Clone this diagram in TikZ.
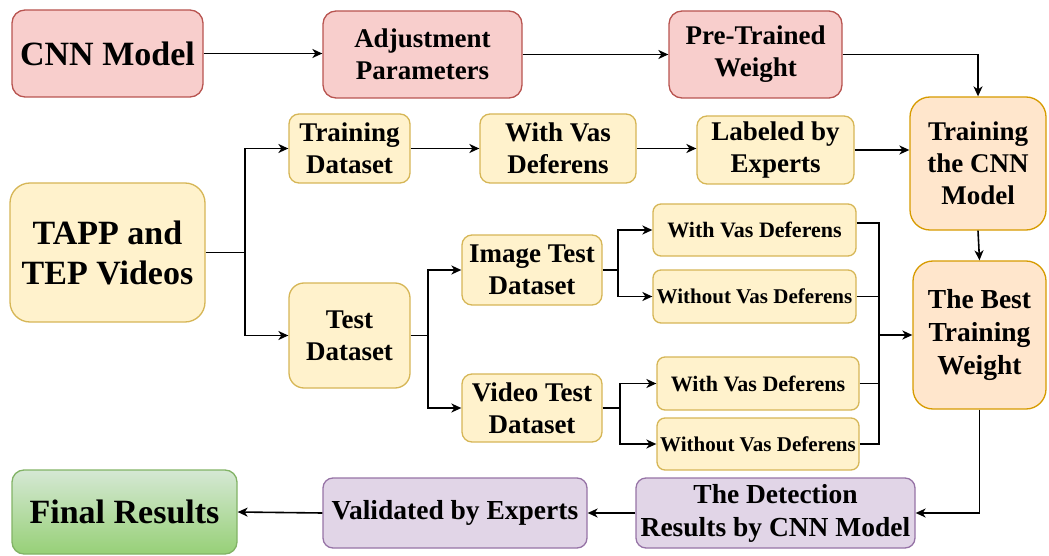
\documentclass[tikz,border=0pt]{standalone}
\usepackage{fontspec}
\setmainfont{Liberation Serif}
\usetikzlibrary{arrows.meta}

\definecolor{redfill}{HTML}{F8CECC}
\definecolor{redline}{HTML}{B85450}
\definecolor{yelfill}{HTML}{FFF2CC}
\definecolor{yelline}{HTML}{D6B656}
\definecolor{orafill}{HTML}{FFE6CC}
\definecolor{oraline}{HTML}{D79B00}
\definecolor{purfill}{HTML}{E1D5E7}
\definecolor{purline}{HTML}{9673A6}
\definecolor{grntop}{HTML}{D5E8D4}
\definecolor{grnbot}{HTML}{97D077}
\definecolor{grnline}{HTML}{82B366}

\tikzset{
  box/.style={rectangle, line width=1.3pt, inner sep=0pt, align=center,
    font=\rmfamily\bfseries\fontsize{27}{32}\selectfont, rounded corners=10pt},
  bigtext/.style={font=\rmfamily\bfseries\fontsize{34}{40}\selectfont},
  midtext/.style={font=\rmfamily\bfseries\fontsize{27.5}{33}\selectfont},
  smalltext/.style={font=\rmfamily\bfseries\fontsize{22}{25}\selectfont},
  tinytext/.style={font=\rmfamily\bfseries\fontsize{21}{25}\selectfont},
  redbox/.style={box, fill=redfill, draw=redline, rounded corners=13pt},
  yelbox/.style={box, fill=yelfill, draw=yelline},
  orabox/.style={box, fill=orafill, draw=oraline, rounded corners=20pt},
  purbox/.style={box, fill=purfill, draw=purline},
  grnbox/.style={box, top color=grntop, bottom color=grnbot, draw=grnline, rounded corners=12pt},
  wire/.style={line width=1.6pt, black},
  arr/.style={wire, -{Stealth[length=10pt,width=9pt,inset=3pt]}},
}

\begin{document}
\begin{tikzpicture}[x=1pt,y=-1pt]
\useasboundingbox (0,0) rectangle (1049,556);

% top row
\node[redbox, bigtext, minimum width=191pt, minimum height=87pt] (cnn) at (107.5,53.5) {CNN Model};
\node[redbox, minimum width=199pt, minimum height=87pt] (adj) at (422.5,54.5) {Adjustment\\Parameters};
\node[redbox, minimum width=173pt, minimum height=87pt] (pre) at (755.5,54.5) {Pre-Trained\\Weight};

% training branch
\node[orabox, minimum width=136pt, minimum height=133pt] (train) at (978,163.5) {Training\\the CNN\\Model};
\node[yelbox, minimum width=121pt, minimum height=69pt] (tds) at (349.5,148.5) {Training\\Dataset};
\node[yelbox, minimum width=156pt, minimum height=69pt] (wvd) at (558,148.5) {With Vas\\Deferens};
\node[yelbox, minimum width=157pt, minimum height=68pt] (lab) at (775.5,150) {Labeled by\\Experts};

% source videos
\node[yelbox, bigtext, rounded corners=20pt, minimum width=195pt, minimum height=139pt] (tapp) at (107.5,252.5) {TAPP and\\TEP Videos};

% test branch
\node[yelbox, rounded corners=15pt, minimum width=121pt, minimum height=105pt] (test) at (349.5,335.5) {Test\\Dataset};
\node[yelbox, minimum width=140pt, minimum height=70pt] (imt) at (532,270) {Image Test\\Dataset};
\node[yelbox, minimum width=140pt, minimum height=68pt] (vt) at (532,408) {Video Test\\Dataset};
\node[yelbox, smalltext, rounded corners=8pt, minimum width=203pt, minimum height=52pt] (w1) at (754.5,230) {With Vas Deferens};
\node[yelbox, tinytext, rounded corners=8pt, minimum width=203pt, minimum height=53pt] (wo1) at (754.5,296.5) {Without Vas Deferens};
\node[yelbox, smalltext, rounded corners=8pt, minimum width=202pt, minimum height=53pt] (w2) at (758,383.5) {With Vas Deferens};
\node[yelbox, tinytext, rounded corners=8pt, minimum width=202pt, minimum height=52pt] (wo2) at (758,444) {Without Vas Deferens};

\node[orabox, midtext, minimum width=133pt, minimum height=148pt] (best) at (979.5,335) {The Best\\Training\\Weight};

% bottom row
\node[purbox, midtext, minimum width=279pt, minimum height=70pt] (det) at (775.5,513) {The Detection\\Results by CNN Model};
\node[purbox, midtext, minimum width=264pt, minimum height=70pt] (val) at (455,513) {Validated by Experts};
\node[grnbox, bigtext, minimum width=225pt, minimum height=84pt] (fin) at (124.5,512) {Final Results};

% connectors
\draw[arr] (cnn.east) -- (cnn.east -| adj.west);
\draw[arr] (adj.east) -- (pre.west);
\draw[arr] (pre.east) -| (train.north);

\coordinate (split1) at (245,252.5);
\draw[wire] (tapp.east) -- (split1);
\draw[arr] (split1) |- (tds.west);
\draw[arr] (split1) |- (test.west);

\draw[arr] (tds.east) -- (wvd.west);
\draw[arr] (wvd.east) -- (wvd.east -| lab.west);
\draw[arr] (lab.east) -- (lab.east -| train.west);

\coordinate (split2) at (428,335.5);
\draw[wire] (test.east) -- (split2);
\draw[arr] (split2) |- (imt.west);
\draw[arr] (split2) |- (vt.west);

\coordinate (split3) at (618,270);
\draw[wire] (imt.east) -- (split3);
\draw[arr] (split3) |- (w1.west);
\draw[arr] (split3) |- (wo1.west);

\coordinate (split4) at (620,408);
\draw[wire] (vt.east) -- (split4);
\draw[arr] (split4) |- (w2.west);
\draw[arr] (split4) |- (wo2.west);

\coordinate (join) at (879,335);
\draw[wire] ([yshift=7pt]w1.east) -| (join);
\draw[wire] (wo1.east) -| (join);
\draw[wire] (w2.east) -| (join);
\draw[wire] (wo2.east) -| (join);
\draw[arr] (join) -- (best.west);

\draw[arr] (train.south) -- (best.north);
\draw[arr] (best.south) |- (det.east);
\draw[arr] (det.west) -- (val.east);
\draw[arr] (val.west) -- (fin.east);
\end{tikzpicture}
\end{document}
